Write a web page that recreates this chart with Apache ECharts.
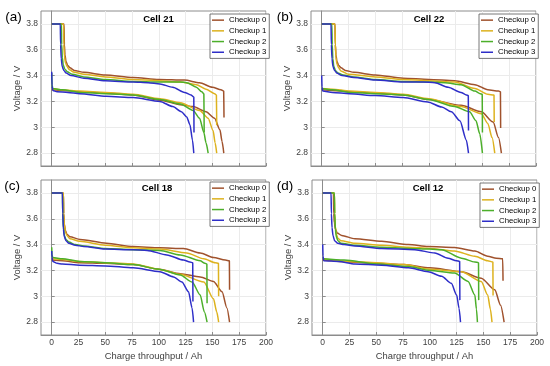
<!DOCTYPE html>
<html><head><meta charset="utf-8">
<script src="https://cdn.jsdelivr.net/npm/echarts@6/dist/echarts.min.js"></script>
<style>html,body{margin:0;padding:0;background:#fff}#c{width:550px;height:366px}</style>
</head><body><div id="c"></div>
<script>
const checkups = ['Checkup 0', 'Checkup 1', 'Checkup 2', 'Checkup 3'];
const cellNames = ['Cell 21', 'Cell 22', 'Cell 18', 'Cell 12'];
const panelLabels = ['(a)', '(b)', '(c)', '(d)'];
const xTicks = [0, 25, 50, 75, 100, 125, 150, 175, 200];
const yTicks = [2.8, 3, 3.2, 3.4, 3.6, 3.8];

// Cell 21
const cell21Upper = [
  [[0,3.8],[11.5,3.8],[11.8,3.64],[12.4,3.56],[13.3,3.51],[14.8,3.48],[17,3.46],[21,3.44],[30,3.425],[50,3.405],[76,3.385],[100,3.37],[124,3.365],[138,3.345],[150,3.31],[158,3.29],[160.5,3.28],[160.8,3.075]],
  [[0,3.8],[11,3.8],[11.3,3.64],[11.9,3.55],[12.8,3.5],[14.3,3.47],[16.5,3.445],[21,3.425],[30,3.41],[50,3.39],[76,3.37],[100,3.36],[120,3.35],[135,3.33],[144,3.295],[152,3.26],[153.7,3.25],[154,3.015]],
  [[0,3.8],[9,3.8],[9.3,3.64],[9.9,3.54],[10.8,3.48],[12.3,3.45],[14.5,3.43],[19,3.41],[30,3.39],[50,3.37],[76,3.355],[100,3.35],[120,3.35],[126,3.345],[135,3.31],[140,3.275],[142,3.26],[142.3,2.96]],
  [[0,3.8],[8,3.8],[8.3,3.64],[8.9,3.53],[9.8,3.47],[11.3,3.44],[13.5,3.42],[18,3.4],[30,3.38],[50,3.36],[76,3.35],[90,3.345],[101,3.335],[113,3.31],[124,3.27],[130,3.25],[132.6,3.235],[132.8,2.96]]
];
const cell21Lower = [
  [[0,3.29],[10,3.285],[26,3.275],[50,3.265],[76,3.25],[101,3.21],[120,3.175],[132,3.16],[144,3.12],[152,3.07],[157,2.98],[159,2.89],[160.6,2.8]],
  [[0,3.3],[10,3.29],[26,3.28],[50,3.27],[76,3.255],[101,3.22],[120,3.19],[138,3.13],[146,3.07],[150.6,2.975],[152.5,2.88],[154,2.8]],
  [[0,3.42],[0.3,3.33],[1,3.3],[10,3.29],[26,3.27],[50,3.26],[76,3.25],[101,3.215],[120,3.18],[132,3.13],[138,3.07],[142,2.96],[144,2.88],[146,2.8]],
  [[0,3.43],[0.3,3.32],[1,3.285],[5,3.275],[15,3.27],[26,3.26],[51,3.24],[76,3.23],[101,3.2],[113,3.16],[121,3.12],[126,3.08],[129,3.02],[131.4,2.9],[132.6,2.8]]
];

// Cell 22
const cell22Upper = [
  [[0,3.8],[12.4,3.8],[12.7,3.64],[13.3,3.56],[14.2,3.51],[15.7,3.48],[18,3.46],[22,3.44],[30,3.425],[50,3.405],[76,3.38],[100,3.37],[124,3.36],[143,3.33],[155,3.29],[165,3.28],[166.8,3.275],[167,2.995]],
  [[0,3.8],[12.4,3.8],[12.7,3.64],[13.3,3.54],[14.2,3.49],[15.7,3.46],[18,3.435],[25,3.41],[50,3.39],[76,3.37],[100,3.36],[124,3.35],[143,3.3],[155,3.255],[160.8,3.25],[161,3.04]],
  [[0,3.8],[9.5,3.8],[9.8,3.64],[10.4,3.53],[11.3,3.47],[12.8,3.44],[15,3.42],[20,3.405],[30,3.39],[50,3.37],[76,3.355],[100,3.35],[115,3.345],[130,3.33],[143,3.28],[148,3.26],[149.8,3.255],[150,2.96]],
  [[0,3.8],[8.7,3.8],[9,3.64],[9.6,3.53],[10.5,3.47],[12,3.44],[14,3.42],[19,3.4],[30,3.385],[50,3.365],[76,3.35],[95,3.35],[105.6,3.345],[118,3.31],[130,3.27],[135,3.25],[136.8,3.245],[137,2.975]]
];
const cell22Lower = [
  [[0,3.29],[10,3.285],[26,3.275],[50,3.265],[76,3.25],[100,3.215],[130,3.17],[149,3.12],[160,3.04],[165,2.92],[167.7,2.8]],
  [[0,3.3],[10,3.295],[26,3.28],[50,3.27],[76,3.255],[100,3.22],[130,3.16],[149,3.105],[155,3.03],[159,2.92],[161.5,2.8]],
  [[0,3.3],[10,3.29],[26,3.27],[50,3.26],[76,3.25],[100,3.215],[124,3.16],[138,3.12],[144,3.05],[147.5,2.95],[150,2.8]],
  [[0,3.4],[0.3,3.31],[1,3.28],[10,3.27],[26,3.26],[50,3.245],[76,3.23],[99,3.196],[112,3.157],[121,3.12],[129,3.05],[135,2.9],[137,2.8]]
];

// Cell 18
const cell18Upper = [
  [[0,3.8],[10.9,3.8],[11.2,3.64],[11.8,3.56],[12.7,3.51],[14.2,3.48],[17,3.46],[26.5,3.44],[51,3.41],[76,3.385],[101,3.375],[123,3.37],[138.6,3.335],[151,3.3],[162,3.28],[165.8,3.275],[166,3.05]],
  [[0,3.8],[10.9,3.8],[11.2,3.64],[11.8,3.55],[12.7,3.5],[14.2,3.47],[17,3.445],[26,3.425],[50,3.395],[76,3.375],[101,3.365],[126,3.335],[142,3.29],[152.6,3.26],[155.6,3.255],[155.8,3.0]],
  [[0,3.8],[10,3.8],[10.3,3.64],[10.9,3.53],[11.8,3.47],[13.3,3.44],[16,3.42],[22,3.4],[30,3.39],[50,3.37],[76,3.36],[101,3.355],[120,3.32],[138.6,3.275],[143,3.255],[144.8,3.25],[145,2.945]],
  [[0,3.8],[10,3.8],[10.3,3.64],[10.9,3.52],[11.8,3.46],[13.3,3.43],[16,3.41],[22,3.395],[30,3.385],[50,3.365],[76,3.36],[89,3.355],[107.5,3.32],[123,3.28],[129,3.265],[131.6,3.26],[131.8,2.96]]
];
const cell18Lower = [
  [[0,3.28],[10,3.275],[26,3.26],[50,3.255],[76,3.245],[100,3.21],[120,3.175],[138.6,3.15],[151,3.115],[159,3.035],[163.5,2.91],[166,2.8]],
  [[0,3.29],[10,3.285],[26,3.27],[50,3.26],[76,3.25],[100,3.21],[120,3.17],[142,3.11],[151,2.98],[154,2.88],[155.8,2.8]],
  [[0,3.38],[0.3,3.32],[1,3.3],[10,3.29],[26,3.27],[50,3.26],[76,3.245],[100,3.21],[120,3.165],[131,3.11],[138.6,3.01],[142.4,2.88],[145,2.8]],
  [[0,3.35],[0.3,3.3],[1,3.27],[5,3.255],[10,3.25],[26,3.24],[50,3.235],[76,3.22],[101,3.19],[113.7,3.15],[121.5,3.11],[127.7,3.035],[131,2.91],[132.4,2.8]]
];

// Cell 12
const cell12Upper = [
  [[0,3.8],[10,3.8],[10.3,3.64],[10.9,3.57],[11.8,3.52],[13.5,3.49],[17.7,3.47],[30,3.445],[55,3.425],[80,3.4],[98.4,3.385],[123,3.378],[142,3.35],[154,3.31],[162,3.295],[168,3.29],[168.3,3.12]],
  [[0,3.8],[10.9,3.8],[11.2,3.64],[11.8,3.54],[12.7,3.48],[14.2,3.45],[17,3.43],[30,3.41],[55,3.395],[80,3.38],[100,3.37],[123,3.35],[142,3.31],[154,3.275],[158.8,3.265],[159,3.005]],
  [[0,3.8],[10.9,3.8],[11.2,3.64],[11.8,3.52],[12.7,3.46],[14.2,3.43],[17,3.41],[30,3.395],[55,3.38],[80,3.37],[100,3.365],[111,3.36],[129.5,3.295],[142,3.265],[145.4,3.26],[145.6,2.97]],
  [[0,3.8],[7.8,3.8],[8.1,3.64],[8.7,3.53],[9.6,3.47],[11.1,3.43],[14,3.41],[20,3.4],[30,3.39],[55,3.37],[86,3.36],[104.7,3.335],[117,3.295],[124.8,3.275],[127.8,3.27],[128,2.97]]
];
const cell12Lower = [
  [[0,3.28],[25,3.265],[50,3.255],[76,3.245],[100,3.22],[129.5,3.19],[148,3.14],[160.6,3.05],[166,2.93],[169.3,2.8]],
  [[0,3.29],[25,3.27],[50,3.26],[76,3.245],[100,3.21],[129.5,3.19],[148,3.115],[154,3.01],[156.5,2.9],[158,2.8]],
  [[0,3.29],[20,3.28],[50,3.25],[80,3.23],[100,3.2],[123,3.18],[135.7,3.115],[142,3.01],[143.5,2.9],[144.4,2.8]],
  [[0,3.4],[0.3,3.31],[1,3.275],[15,3.27],[30,3.25],[55,3.24],[80,3.22],[98.4,3.19],[111,3.155],[120,3.1],[125,3.01],[127.3,2.905],[128.6,2.8]]
];

const colors = ['#A0522D', '#DDB21E', '#4CAF2A', '#2E2EC8'];
const FONT = 'Liberation Sans, Arial, Helvetica, sans-serif';
const panelData = [
  [cell21Upper, cell21Lower],
  [cell22Upper, cell22Lower],
  [cell18Upper, cell18Lower],
  [cell12Upper, cell12Lower]
];

const gridPos = [
  {left: 41, top: 11, width: 225, height: 155},
  {left: 311, top: 11, width: 225, height: 155},
  {left: 41, top: 180, width: 225, height: 155},
  {left: 312, top: 180, width: 225, height: 155}
];
const titlePos = [[158.5, 19.5], [429, 19.5], [157, 188.5], [428, 188.5]];
const labelPos = [[13.5, 17], [285, 17], [12, 186.5], [285, 186.5]];
const legendPos = [[210, 14], [479, 14], [210, 182], [480, 183]];
const axisColor = '#8c8c8c';

const grid = gridPos.map(g => Object.assign({show: true, borderColor: axisColor, borderWidth: 1, backgroundColor: '#fff'}, g));
const xAxis = gridPos.map((g, i) => ({
  gridIndex: i, type: 'value', min: -10, max: 200,
  axisLine: {show: true, lineStyle: {color: axisColor, width: 1}},
  axisTick: {show: true, inside: true, length: 3, customValues: xTicks, lineStyle: {color: axisColor}},
  axisLabel: {show: i >= 2, customValues: xTicks, fontSize: 8.5, color: '#404040', margin: 3, fontFamily: FONT},
  splitLine: {show: true, lineStyle: {color: '#ebebeb', width: 1}},
  name: i >= 2 ? 'Charge throughput / Ah' : '', nameLocation: 'middle', nameGap: 17,
  nameTextStyle: {fontSize: 9.4, color: '#404040', fontFamily: FONT}
}));
const yAxis = gridPos.map((g, i) => ({
  gridIndex: i, type: 'value', min: 2.7, max: 3.9,
  axisLine: {show: true, lineStyle: {color: axisColor, width: 1}},
  axisTick: {show: true, inside: true, length: 3, customValues: yTicks, lineStyle: {color: axisColor}},
  axisLabel: {show: true, customValues: yTicks, fontSize: 8.5, color: '#404040', margin: 3, fontFamily: FONT},
  splitLine: {show: true, lineStyle: {color: '#ebebeb', width: 1}},
  name: 'Voltage / V', nameLocation: 'middle', nameGap: (i % 2 === 0) ? 17 : 18,
  nameTextStyle: {fontSize: 9.4, color: '#404040', fontFamily: FONT}
}));

const series = [];
panelData.forEach((pd, i) => {
  pd.forEach(group => {
    group.forEach((pts, k) => {
      series.push({
        type: 'line', name: checkups[k], xAxisIndex: i, yAxisIndex: i,
        data: pts, symbol: 'none', showSymbol: false,
        smooth: 0.25, smoothMonotone: 'x',
        lineStyle: {color: colors[k], width: 1.5},
        itemStyle: {color: colors[k]},
        z: 2 + k
      });
    });
  });
});

const legend = legendPos.map(p => ({
  data: checkups.map(n => ({name: n, icon: 'rect'})), orient: 'vertical', left: p[0], top: p[1],
  itemWidth: 12, itemHeight: 1.5, itemGap: 2.4, padding: [2, 3, 2, 2],
  borderColor: '#555', borderWidth: 0.8, backgroundColor: '#fff',
  textStyle: {fontSize: 7.8, color: '#000', fontFamily: FONT, lineHeight: 8.3},
  selectedMode: false
}));

const graphic = [];
cellNames.forEach((t, i) => {
  graphic.push({type: 'text', x: titlePos[i][0], y: titlePos[i][1], z: 100,
    style: {text: t, align: 'center', verticalAlign: 'middle', textAlign: 'center', textVerticalAlign: 'middle',
      font: 'bold 9.5px ' + FONT, fill: '#000'}});
});
panelLabels.forEach((t, i) => {
  graphic.push({type: 'text', x: labelPos[i][0], y: labelPos[i][1], z: 100,
    style: {text: t, align: 'center', verticalAlign: 'middle', textAlign: 'center', textVerticalAlign: 'middle',
      font: '13.5px ' + FONT, fill: '#000'}});
});

const chart = echarts.init(document.getElementById('c'), null, {renderer: 'canvas'});
chart.setOption({
  animation: false,
  backgroundColor: '#fff',
  grid, xAxis, yAxis, series, legend, graphic
});
</script></body></html>
